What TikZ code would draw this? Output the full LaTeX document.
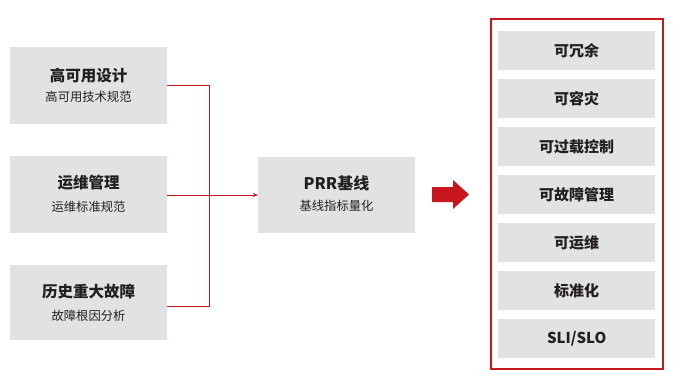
\documentclass[tikz,border=0pt]{standalone}
\usepackage{fontspec}
\setmainfont{Noto Sans CJK SC}
\usetikzlibrary{arrows.meta}
\definecolor{boxgray}{HTML}{E1E2E4}
\definecolor{mred}{HTML}{C8161E}
\definecolor{txt}{HTML}{231F20}
\tikzset{
  srcbox/.style={fill=boxgray, minimum width=157pt, minimum height=77pt, inner sep=0pt, anchor=north west},
  itembox/.style={fill=boxgray, minimum width=157pt, minimum height=39pt, inner sep=0pt, anchor=north west,
    font=\fontsize{15}{15}\selectfont\bfseries, text=txt},
  ttl/.style={font=\fontsize{15.5}{15.5}\selectfont\bfseries, text=txt, inner sep=0pt},
  sub/.style={font=\fontsize{12.3}{12.3}\selectfont, text=txt, inner sep=0pt},
  conn/.style={draw=mred, line width=0.9pt},
}
\begin{document}
\begin{tikzpicture}[x=1pt,y=-1pt]
\useasboundingbox (0,0) rectangle (689,386);
% left boxes
\node[srcbox] (a) at (10,47) {};
\node[ttl] (at) at (88.5,76) {高可用设计};
\node[sub] (as) at (88.5,97) {高可用技术规范};
\node[srcbox] (b) at (10,156) {};
\node[ttl] (bt) at (88.5,183) {运维管理};
\node[sub] (bs) at (88.5,207) {运维标准规范};
\node[srcbox, minimum height=75pt] (c) at (10,265) {};
\node[ttl] (ct) at (88.5,292) {历史重大故障};
\node[sub] (cs) at (88.5,316) {故障根因分析};
% PRR box
\node[srcbox, minimum height=76pt] (p) at (258,157) {};
\node[ttl, font=\fontsize{16}{16}\selectfont\bfseries] (pt) at (336.5,183) {PRR基线};
\node[sub] (ps) at (336.5,206) {基线指标量化};
% connectors
\coordinate (j) at (209,195);
\draw[conn] (a.east |- 0,85) -| (j);
\draw[conn] (c.east |- 0,306) -| (j);
\draw[conn, -{Stealth[length=5pt,width=4pt]}] (b.east |- 0,195) -- (p.west |- 0,195);
% big arrow
\fill[mred] (432,187) -- (453,187) -- (453,180) -- (469,194.5) -- (453,209) -- (453,202) -- (432,202) -- cycle;
% frame
\coordinate (f1) at (491,19);
\coordinate (f2) at (663,369);
\draw[color=mred, line width=1.3pt] (f1) rectangle (f2);
% items
\node[itembox] (r1) at (498,31) {可冗余};
\node[itembox] (r2) at (498,79) {可容灾};
\node[itembox] (r3) at (498,127) {可过载控制};
\node[itembox] (r4) at (498,175) {可故障管理};
\node[itembox] (r5) at (498,223) {可运维};
\node[itembox] (r6) at (498,271) {标准化};
\node[itembox] (r7) at (498,319) {SLI/SLO};
\end{tikzpicture}
\end{document}
